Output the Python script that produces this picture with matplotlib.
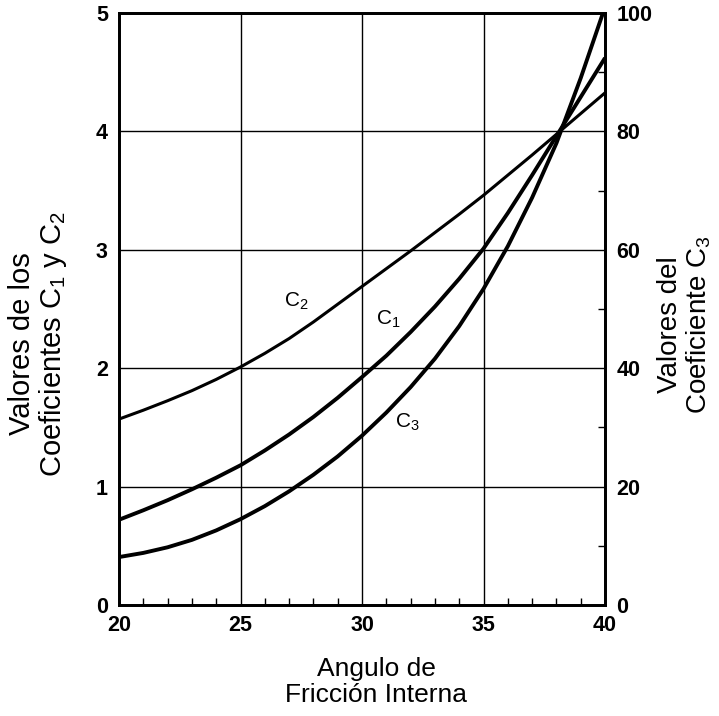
import numpy as np
import matplotlib
matplotlib.use("Agg")
import matplotlib.pyplot as plt
from matplotlib.ticker import FixedLocator

plt.rcParams['font.family'] = ['Liberation Sans', 'DejaVu Sans']
plt.rcParams['mathtext.fontset'] = 'custom'
plt.rcParams['mathtext.rm'] = 'Liberation Sans'
plt.rcParams['mathtext.it'] = 'Liberation Sans'
plt.rcParams['mathtext.bf'] = 'Liberation Sans:bold'
plt.rcParams['mathtext.default'] = 'regular'

# Angulo de friccion interna (grados)
angulo = [20, 21, 22, 23, 24, 25, 26, 27, 28, 29, 30,
          31, 32, 33, 34, 35, 36, 37, 38, 39, 40]

# Coeficientes
c1 = [0.72, 0.80, 0.885, 0.977, 1.075, 1.18, 1.305, 1.44, 1.588, 1.75, 1.925,
      2.105, 2.305, 2.52, 2.755, 3.01, 3.31, 3.63, 3.96, 4.29, 4.62]
c2 = [1.57, 1.645, 1.725, 1.81, 1.905, 2.01, 2.125, 2.25, 2.39, 2.54, 2.69,
      2.84, 2.99, 3.145, 3.30, 3.46, 3.63, 3.80, 3.975, 4.15, 4.325]
c3 = [8.1, 8.8, 9.75, 11.0, 12.6, 14.5, 16.7, 19.2, 22.0, 25.1, 28.6,
      32.5, 36.8, 41.6, 47.1, 53.4, 60.6, 68.8, 78.0, 89.0, 101.0]

fig = plt.figure(figsize=(7.19, 7.16), dpi=100)
ax = fig.add_axes([0.1655, 0.155, 0.676, 0.827])
ax2 = ax.twinx()

ax.set_xlim(20, 40)
ax.set_ylim(0, 5)
ax2.set_ylim(0, 100)

# rejilla
ax.set_xticks([20, 25, 30, 35, 40])
ax.set_yticks([0, 1, 2, 3, 4, 5])
ax.grid(True, color='black', linewidth=1.0)
ax.xaxis.set_minor_locator(FixedLocator([i for i in range(21, 40) if i % 5 != 0]))
ax.tick_params(axis='x', which='major', length=0, pad=7, labelsize=15.5)
ax.tick_params(axis='x', which='minor', direction='in', length=5, width=1.0)
ax.tick_params(axis='y', which='major', length=0, pad=8, labelsize=15.5)

ax2.set_yticks([0, 20, 40, 60, 80, 100])
ax2.yaxis.set_minor_locator(FixedLocator([10, 30, 50, 70, 90]))
ax2.tick_params(axis='y', which='major', length=0, pad=8, labelsize=15.5)
ax2.tick_params(axis='y', which='minor', direction='in', length=5, width=1.0)

for lab in ax.get_xticklabels() + ax.get_yticklabels() + ax2.get_yticklabels():
    lab.set_fontweight('bold')

for a in (ax, ax2):
    for s in a.spines.values():
        s.set_linewidth(2.0)

ax.plot(angulo, c1, color='black', linewidth=2.8, solid_capstyle='butt')
ax.plot(angulo, c2, color='black', linewidth=2.2, solid_capstyle='butt')
ax2.plot(angulo, c3, color='black', linewidth=2.8, solid_capstyle='butt')

ax.text(27.3, 2.56, 'C$_2$', fontsize=15, ha='center', va='center')
ax.text(31.07, 2.41, 'C$_1$', fontsize=15, ha='center', va='center')
ax.text(31.85, 1.54, 'C$_3$', fontsize=15, ha='center', va='center')

fig.text(0.523, 0.0475, 'Angulo de\nFricción Interna', fontsize=19,
         ha='center', va='center', linespacing=1.1)
fig.text(0.053, 0.52, 'Valores de los\nCoeficientes C$_1$ y C$_2$', fontsize=21,
         ha='center', va='center', rotation=90, linespacing=1.05)
fig.text(0.953, 0.546, 'Valores del\nCoeficiente C$_3$', fontsize=20,
         ha='center', va='center', rotation=90, linespacing=1.05)

fig.savefig('out.png', dpi=100)
